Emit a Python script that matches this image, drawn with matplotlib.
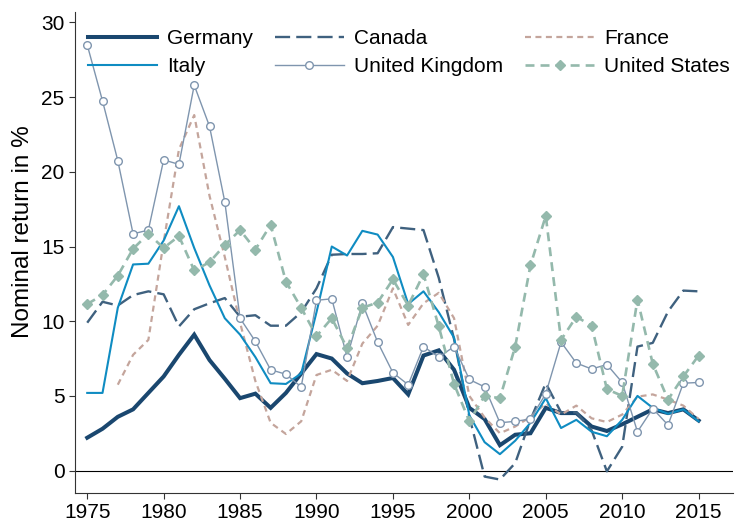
import matplotlib
matplotlib.use("Agg")
import matplotlib.pyplot as plt
import numpy as np

plt.rcParams['font.family'] = ['Liberation Sans', 'DejaVu Sans']

years = list(range(1975, 2016))

germany = [2.2, 2.8, 3.6, 4.1, 5.2, 6.3, 7.75, 9.1, 7.4, 6.15,
           4.85, 5.15, 4.2, 5.2, 6.5, 7.8, 7.5, 6.5, 5.85, 6.0,
           6.2, 5.1, 7.7, 8.05, 6.75, 4.2, 3.45, 1.7, 2.4, 2.5,
           4.2, 3.85, 3.85, 2.95, 2.65, 3.1, 3.6, 4.1, 3.85, 4.1, 3.35]

italy = [5.2, 5.2, 10.9, 13.8, 13.85, 15.4, 17.7, 14.9, 12.4, 10.2,
         9.1, 7.6, 5.85, 5.8, 6.5, 10.6, 15.0, 14.4, 16.05, 15.8,
         14.3, 11.15, 12.0, 10.6, 8.9, 3.7, 1.9, 1.1, 2.0, 3.2,
         4.85, 2.85, 3.4, 2.6, 2.3, 3.4, 5.0, 4.2, 3.8, 4.1, 3.3]

canada = [9.9, 11.3, 11.05, 11.75, 12.0, 11.8, 9.65, 10.8, 11.2, 11.55,
          10.3, 10.4, 9.7, 9.7, 10.6, 12.2, 14.45, 14.5, 14.5, 14.55,
          16.3, 16.2, 16.1, 12.9, 8.8, 3.6, -0.4, -0.6, 0.5, 3.4,
          5.85, 3.9, 3.9, 2.7, -0.05, 1.6, 8.3, 8.55, 10.65, 12.05, 12.0]

uk = [28.5, 24.75, 20.75, 15.85, 16.1, 20.8, 20.5, 25.8, 23.05, 18.0,
      10.2, 8.65, 6.75, 6.45, 5.6, 11.4, 11.5, 7.6, 11.2, 8.6,
      6.55, 5.75, 8.3, 7.6, 8.3, 6.1, 5.6, 3.2, 3.3, 3.45,
      5.15, 8.6, 7.2, 6.8, 7.1, 5.9, 2.6, 4.15, 3.05, 5.85, 5.9]

france = [np.nan, np.nan, 5.75, 7.75, 8.75, 15.3, 21.5, 23.8, 18.4, 14.3,
          9.9, 6.0, 3.2, 2.45, 3.3, 6.4, 6.75, 6.0, 8.5, 9.7,
          12.2, 9.75, 11.2, 11.9, 10.2, 5.0, 3.55, 2.5, 2.95, 3.6,
          4.5, 3.75, 4.35, 3.5, 3.25, 3.75, 4.95, 5.1, 4.75, 4.35, 3.45]

us = [11.15, 11.75, 13.05, 14.85, 15.85, 14.9, 15.7, 13.4, 13.95, 15.1,
      16.1, 14.8, 16.45, 12.65, 10.9, 9.0, 10.2, 8.2, 10.9, 11.25,
      12.8, 11.05, 13.15, 9.65, 5.8, 3.3, 5.0, 4.85, 8.3, 13.75,
      17.05, 8.75, 10.3, 9.7, 5.45, 5.0, 11.45, 7.15, 4.75, 6.3, 7.7]

x_ticks = list(range(1975, 2016, 5))
y_ticks = list(range(0, 31, 5))

fig = plt.figure(figsize=(7.35, 5.23), dpi=100)
ax = fig.add_axes([75/735, (523-493)/523, (733-75)/735, (493-12)/523])

h_de, = ax.plot(years, germany, color='#1a476f', lw=2.9, solid_joinstyle='miter', label='Germany', zorder=3)
h_ca, = ax.plot(years, canada, color='#3f617f', lw=1.7, dashes=(6.4, 2.6), label='Canada', zorder=3)
h_fr, = ax.plot(years, france, color='#c4a59c', lw=1.6, dashes=(2.7, 2.0), label='France', zorder=3)
h_it, = ax.plot(years, italy, color='#0f8cc2', lw=1.5, label='Italy', zorder=3)
h_uk, = ax.plot(years, uk, color='#7f95ae', lw=1.0, marker='o', ms=5.5, mfc='white', mec='#7f95ae', mew=1.0,
                label='United Kingdom', zorder=3)
h_us, = ax.plot(years, us, color='#94b9ac', lw=1.9, dashes=(3.4, 2.3), marker='D', ms=5.5, mfc='#94b9ac',
                mec='#94b9ac', label='United States', zorder=3)

ax.axhline(0, color='black', lw=0.8, zorder=2)

ax.set_xlim(1974.2, 2017.25)
ax.set_ylim(-1.5, 30.7)
ax.set_xticks(x_ticks)
ax.set_yticks(y_ticks)
ax.tick_params(axis='both', labelsize=15, length=4, width=0.8, direction='out', color='#333333')
ax.spines['top'].set_visible(False)
ax.spines['right'].set_visible(False)
for s in ('left', 'bottom'):
    ax.spines[s].set_linewidth(0.8)
    ax.spines[s].set_color('#333333')

ax.set_ylabel('Nominal return in %', fontsize=17.5)
ax.yaxis.set_label_coords((34 - 75) / 658, (493 - 231.5) / 481)

handles = [h_de, h_it, h_ca, h_uk, h_fr, h_us]
leg = fig.legend(handles=handles, labels=[h.get_label() for h in handles], ncol=3,
                 loc='upper left', bbox_to_anchor=(88/735, 1 - 29/523), frameon=False,
                 fontsize=15, handlelength=3.3, handletextpad=0.5, columnspacing=1.05,
                 labelspacing=0.45, borderpad=0, borderaxespad=0, numpoints=1)

fig.savefig('out.png', dpi=100)
